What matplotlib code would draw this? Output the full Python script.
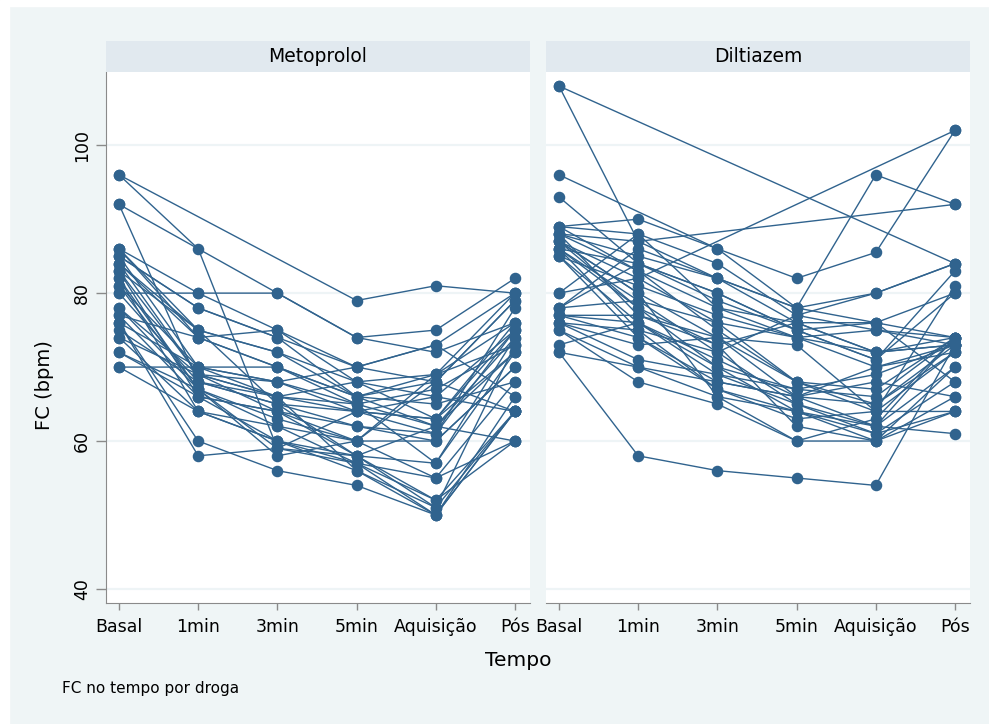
import matplotlib
matplotlib.use('Agg')
import matplotlib.pyplot as plt
import numpy as np

nan = np.nan

TIMES = ['Basal', '1min', '3min', '5min', 'Aquisição', 'Pós']
PANELS = ['Metoprolol', 'Diltiazem']

# FC per subject: Basal, 1min, 3min, 5min, Aquisicao, Pos
metoprolol = [
    [96, 86, 59, 58, 52, 64],
    [96, nan, nan, 79, 81, 80],
    [92, nan, 80, 74, 75, 82],
    [92, 68, 65, 62, 60, 70],
    [86, 80, 75, 70, 73, 80],
    [86, 75, 72, 68, 69, 76],
    [85, 70, 66, 64, 63, 75],
    [85, 78, 74, 66, 62, 72],
    [84, 69, 68, 65, 57, 74],
    [84, 74, 70, 66, 68, 79],
    [83, 66, 64, 60, 55, 68],
    [83, 75, 65, 58, 51, 73],
    [82, 67, 62, 57, 50, 64],
    [82, 64, 60, 56, 50, 66],
    [81, 70, 68, 64, 61, 78],
    [80, 80, 80, 74, 72, 76],
    [80, 68, 66, 65, 67, 73],
    [78, 69, 64, 62, 61, 75],
    [78, 67, 63, 60, 60, 70],
    [77, 74, 75, 68, 66, 64],
    [77, 66, 60, 58, 62, 74],
    [76, 58, 59, 57, 52, 60],
    [76, 60, 56, 54, 50, 64],
    [76, 70, 70, 66, 65, 68],
    [75, 68, 65, 64, 63, 76],
    [74, 64, 62, 60, 69, 80],
    [74, 69, 66, 56, 51, 64],
    [72, 67, 58, 60, 68, 79],
    [72, 66, 64, 58, 57, 72],
    [70, 70, 68, 70, 73, 66],
    [70, 64, 60, 57, 55, 60],
    [85, 78, 74, 70, 68, 64],
    [84, 75, 72, 66, 69, 73],
    [86, 74, 70, 65, 62, 60],
    [83, 69, 66, 68, 63, 72],
    [81, 67, 59, 64, 66, 75],
]

diltiazem = [
    [108, 87, 82, 76, 72, 74],
    [108, nan, nan, nan, nan, 84],
    [96, nan, 86, 82, 85.5, 102],
    [93, 84, 80, 75, 76, 80],
    [89, 90, 86, 78, 96, 92],
    [89, 88, 84, 77, 75, 74],
    [88, 87, nan, nan, nan, 92],
    [88, 85, 82, 78, 80, 84],
    [88, 83, 78, 74, 70, 73],
    [87, 82, 76, 68, 64, 72],
    [87, 80, 74, 66, 62, 70],
    [86, 79, 72, 65, 61, 68],
    [86, 78, 70, 64, 60, 66],
    [85, 76, 69, 67, 66, 74],
    [85, 74, 68, 66, 65, 73],
    [88, 77, 73, 62, 60, 64],
    [87, 80, 66, 60, 63, 74],
    [86, 75, 67, 63, 64, 81],
    [80, 82, nan, nan, nan, 102],
    [80, 88, 78, 76, 72, 73],
    [78, 84, 80, 75, 71, 83],
    [78, 79, 76, 74, 75, 73],
    [77, 77, 74, 68, 67, 74],
    [77, 76, 71, 66, 70, 72],
    [76, 75, 72, 77, 80, 84],
    [76, 71, 69, 65, 62, 61],
    [75, 70, 66, 64, 61, 64],
    [75, 68, 65, 60, 60, 70],
    [73, 76, 70, 67, 69, 73],
    [72, 58, 56, 55, 54, 73],
    [72, 70, 68, 66, 68, 66],
    [78, 86, 82, 78, 76, 74],
    [85, 81, 77, 74, 72, 73],
    [86, 84, 79, 75, 71, 80],
    [89, 83, 75, 68, 65, 72],
    [87, 78, 73, 76, 76, 68],
    [77, 74, 67, 64, 62, 74],
    [76, 73, 74, 73, 64, 64],
]

YTICKS = [40, 60, 80, 100]

BG = '#eff5f6'
STRIP = '#e1e9ef'
LINE = '#30638e'
AXC = '#8a8a8a'

W, H = 989, 724
fig = plt.figure(figsize=(W / 100, H / 100), dpi=100, facecolor=BG)
# thin white margin on top and left, as in the exported original
fig.patches.append(plt.Rectangle((0, 1 - 6 / H), 1, 6 / H, transform=fig.transFigure,
                                 color='white', zorder=0))
fig.patches.append(plt.Rectangle((0, 0), 9 / W, 1, transform=fig.transFigure,
                                 color='white', zorder=0))


def px(x0, y0, x1, y1):
    # pixel box (top-left origin) -> figure fraction
    return [x0 / W, 1 - y1 / H, (x1 - x0) / W, (y1 - y0) / H]


def draw_panel(left, data, title, first):
    ax = fig.add_axes(px(left, 72, left + 424, 603))
    ax.set_facecolor('white')
    xs = np.arange(len(TIMES))
    for row in data:
        y = np.array(row, dtype=float)
        ok = ~np.isnan(y)
        ax.plot(xs[ok], y[ok], color=LINE, lw=1.0, marker='o', ms=7.3,
                mec=LINE, mfc=LINE, zorder=3)
    ax.set_xlim(-0.164, 5.19)
    ax.set_ylim(38.1, 109.9)
    for v in YTICKS:
        ax.axhline(v, color='#eef4f6', lw=1.6, zorder=1)
    ax.set_xticks(xs)
    ax.set_xticklabels(TIMES, fontsize=12.5)
    ax.tick_params(axis='x', length=5, width=1, color=AXC, pad=6)
    for s in ['top', 'right']:
        ax.spines[s].set_visible(False)
    ax.spines['bottom'].set_color(AXC)
    if first:
        ax.set_yticks(YTICKS)
        ax.set_yticklabels([str(v) for v in YTICKS], fontsize=12.5,
                           rotation=90, va='center')
        ax.tick_params(axis='y', length=7, width=1, color=AXC, pad=4)
        ax.spines['left'].set_color(AXC)
    else:
        ax.set_yticks([])
        ax.spines['left'].set_visible(False)

    sax = fig.add_axes(px(left, 41, left + 424, 72))
    sax.set_facecolor(STRIP)
    sax.set_xticks([])
    sax.set_yticks([])
    for s in sax.spines.values():
        s.set_visible(False)
    sax.text(0.5, 0.5, title, ha='center', va='center', fontsize=13.5,
             transform=sax.transAxes)


draw_panel(106, metoprolol, PANELS[0], True)
draw_panel(546, diltiazem, PANELS[1], False)

fig.text(45 / W, 1 - 385 / H, 'FC (bpm)', rotation=90, ha='center', va='center',
         fontsize=14)
fig.text(518 / W, 1 - 661 / H, 'Tempo', ha='center', va='center', fontsize=14.5)
fig.text(62 / W, 1 - 688 / H, 'FC no tempo por droga', ha='left', va='center',
         fontsize=11)

plt.savefig('out.png', dpi=100, facecolor=BG)
